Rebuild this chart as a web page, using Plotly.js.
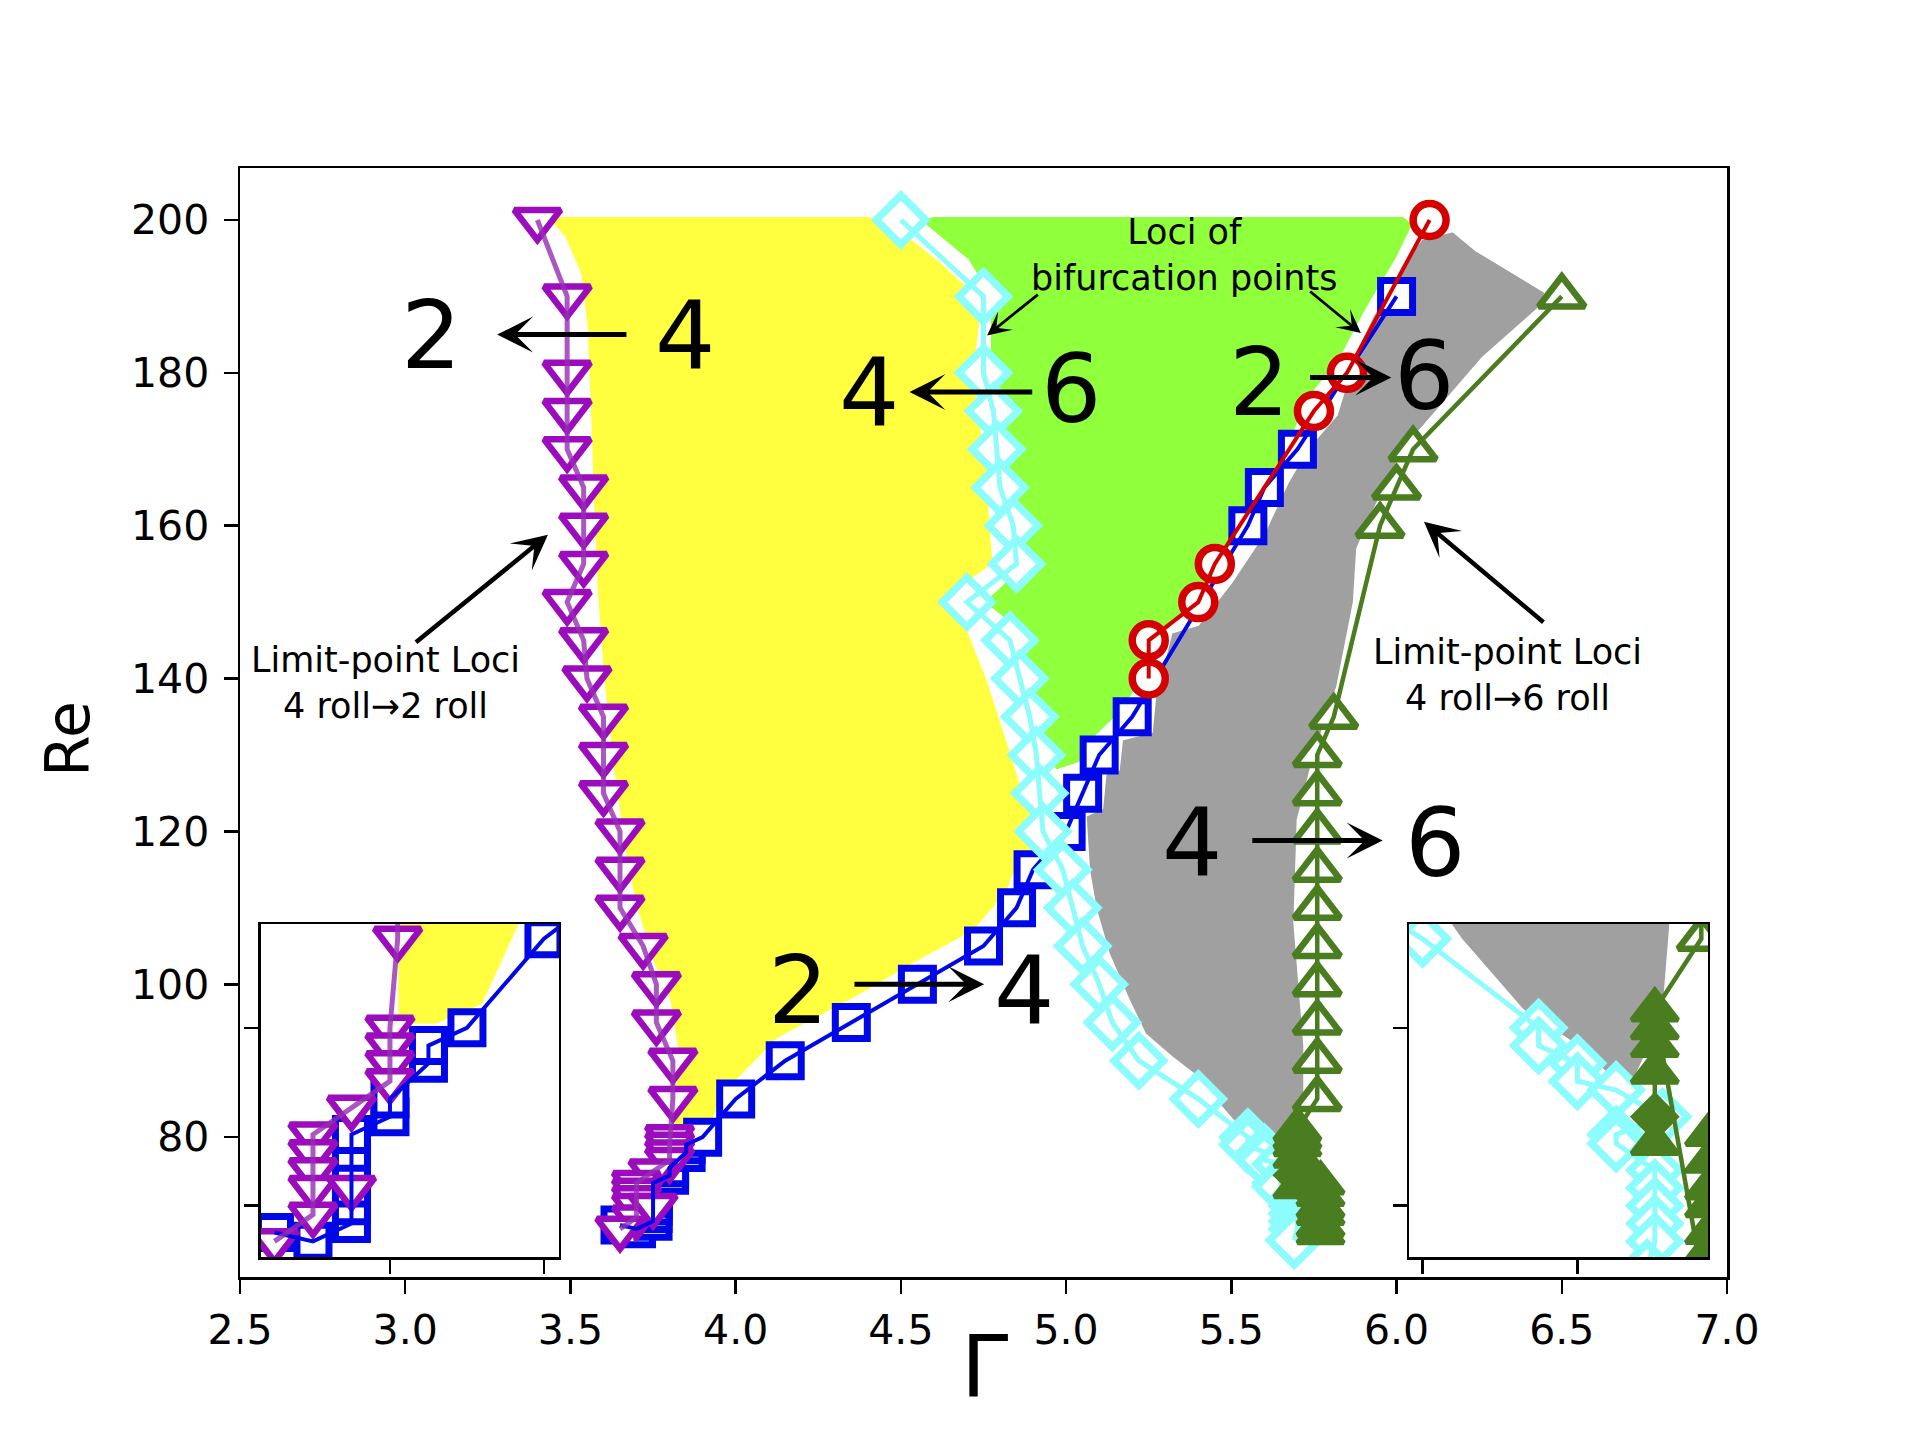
<!DOCTYPE html>
<html><head><meta charset="utf-8">
<script src="https://cdn.plot.ly/plotly-3.0.1.min.js"></script>
<style>html,body{margin:0;padding:0;background:#fff;}</style>
</head><body>
<div id="chart" style="width:1920px;height:1437px;"></div>
<script>
// ---------------- data ----------------
// Limit-point loci 4 roll -> 2 roll (purple, down triangles)
const purpleGamma = [3.40,3.49,3.49,3.49,3.49,3.54,3.54,3.54,3.49,3.54,3.55,3.60,3.60,3.60,3.65,3.65,3.65,3.72,3.76,3.76,3.81,3.81,3.80,3.80,3.80,3.80,3.75,3.70,3.70,3.70,3.70,3.70,3.65];
const purpleRe    = [200,190,180,175,170,165,160,155,150,145,140,135,130,125,120,115,110,105,100,95,90,85,80,79,78,77,75.5,74,73,72,71,69.5,68];
const purpleExtraGamma = [3.75];
const purpleExtraRe    = [71];
// 2 -> 4 bifurcation loci (blue squares)
const blueGamma = [3.65,3.70,3.75,3.75,3.75,3.75,3.75,3.75,3.80,3.80,3.85,3.85,3.90,4.00,4.15,4.35,4.55,4.75,4.85,4.90,5.00,5.05,5.10,5.20,5.55,5.60,5.70,6.00];
const blueRe    = [68.5,68,69,70,71,72,73,74,75,76,78,79,80,85,90,95,100,105,110,115,120,125,130,135,160,165,170,190];
// 2 -> 6 bifurcation loci (red circles)
const redGamma = [5.25,5.25,5.40,5.45,5.75,5.85,6.10];
const redRe    = [140,145,150,155,175,180,200];
// 4 <-> 6 bifurcation loci (cyan diamonds)
const cyanGamma = [4.50,4.75,4.75,4.78,4.79,4.80,4.84,4.85,4.70,4.83,4.86,4.89,4.91,4.92,4.93,4.99,5.02,5.05,5.10,5.14,5.22,5.40,5.55,5.55,5.60,5.60,5.65,5.71,5.65,5.65,5.70,5.70,5.70,5.70,5.70,5.69];
const cyanRe    = [200,190,180,175,170,165,160,155,150,145,140,135,130,125,120,115,110,105,100,95,90,85,80,79,78,77,76.5,75,74,73.5,72,71,70,69,68,66.5];
// Limit-point loci 4 roll -> 6 roll (green triangles)
const greenOpenGamma = [6.50,6.05,6.00,5.95,5.81,5.76,5.76,5.76,5.76,5.76,5.76,5.76,5.76,5.76,5.76];
const greenOpenRe    = [190,170,165,160,135,130,125,120,115,110,105,100,95,90,85];
const greenFilledGamma = [5.70,5.70,5.70,5.70,5.70];
const greenFilledRe    = [81,80,79,77.5,73.5];
const greenDiamondGamma = [5.70];
const greenDiamondRe    = [75];
const greenBranchGamma = [5.77,5.77,5.77,5.77,5.77,5.77];
const greenBranchRe    = [74,72.5,71,70,68.5,67.5];
const greenTailGamma = [5.755,5.71];
const greenTailRe    = [67.5,78.5];
// region outlines
const yellowGamma = [3.44,3.47,4.40,4.46,4.62,4.72,4.74,4.73,4.73,4.76,4.77,4.78,4.68,4.64,4.70,4.76,4.82,4.87,4.92,4.93,4.86,4.82,4.72,4.55,4.35,4.13,3.97,3.92,3.86,3.81,3.81,3.83,3.80,3.75,3.70,3.67,3.63,3.60,3.58,3.57,3.56,3.55,3.53,3.48];
const yellowRe    = [200,200.5,200.5,200,194.5,190.5,187,183,176,168,160,155,152,150,146.5,140,132,125,120,117.5,116.5,112,107,103,98,93,86,81.3,80.2,80.2,85,90,98,103,110,116,128,140,152,162,175,186,193,198];
const limeGamma = [4.56,4.60,6.02,6.05,6.00,5.91,5.83,5.74,5.66,5.55,5.48,5.39,5.29,5.22,5.15,5.09,5.04,4.97,4.93,4.90,4.86,4.84,4.75,4.80,4.87,4.86,4.82,4.81,4.80,4.77,4.77,4.77,4.70];
const limeRe    = [200,200.5,200.5,199.5,195,188.5,182,177,169.5,161.5,156,150.5,145.5,139,135,132.5,129,128,130,135,140,147,150,152,155,160,165,170,175,180,185,190,195];
const grayGamma = [6.08,6.17,6.24,6.45,6.43,6.26,6.10,6.02,5.93,5.88,5.87,5.82,5.75,5.70,5.69,5.72,5.72,5.71,5.67,5.64,5.59,5.53,5.45,5.41,5.32,5.24,5.19,5.13,5.09,5.07,5.06,5.11,5.12,5.16,5.17,5.26,5.27,5.32,5.40,5.50,5.60,5.67,5.73,5.82,5.88,5.93,6.02];
const grayRe    = [197.5,198.5,196,190.5,188.5,182,174,170,162,157,150,139,130,121.5,108,92,86,80.6,76.8,77.4,79.3,81,85,87.5,90.5,93.5,98,104,110,115,122,123,127.5,128,132,133,137.5,146,147,152.5,159,165.5,170,174.5,183,187.5,194];
// ticks
const xTickVals = [2.5,3.0,3.5,4.0,4.5,5.0,5.5,6.0,6.5,7.0];
const xTickText = ['2.5','3.0','3.5','4.0','4.5','5.0','5.5','6.0','6.5','7.0'];
const yTickVals = [80,100,120,140,160,180,200];

// ---------------- styles ----------------
const PURPLE = '#9a0cbc', PURPLE_LINE = 'rgba(150,45,180,0.8)';
const BLUE = '#0008e8', RED = '#d40000', CYAN = '#8cfcfc', GREEN = '#4a7d20';
const YELLOW = '#ffff40', LIME = '#90ff3c', GRAY = '#a0a0a0';
const FONT = 'DejaVu Sans';

function buildTraces(xa, ya) {
  const base = {type:'scatter', xaxis:xa, yaxis:ya, showlegend:false, hoverinfo:'skip'};
  const T = [];
  const fillT = (gx, gy, col) => Object.assign({}, base, {mode:'lines', x:gx, y:gy, fill:'toself', fillcolor:col, line:{color:'white', width:1.5}});
  const mk = (gx, gy, sym, col, size, lw, face) => Object.assign({}, base, {mode:'markers', x:gx, y:gy, marker:{symbol:sym, size:size, color:face || 'white', line:{color:col, width:lw}}});
  const ln = (gx, gy, col, w) => Object.assign({}, base, {mode:'lines', x:gx, y:gy, line:{color:col, width:w}});
  T.push(fillT(grayGamma, grayRe, GRAY));
  T.push(fillT(limeGamma, limeRe, LIME));
  T.push(fillT(yellowGamma, yellowRe, YELLOW));
  T.push(mk(blueGamma, blueRe, 'square', BLUE, 32, 7));
  T.push(mk(purpleGamma, purpleRe, 'triangle-down', PURPLE, 40, 6.5));
  T.push(mk(purpleExtraGamma, purpleExtraRe, 'triangle-down', PURPLE, 40, 6.5));
  T.push(ln(blueGamma, blueRe, BLUE, 4));
  T.push(ln(purpleGamma, purpleRe, PURPLE_LINE, 5));
  T.push(mk(cyanGamma, cyanRe, 'diamond', CYAN, 38, 7.5));
  T.push(ln(cyanGamma, cyanRe, CYAN, 5));
  T.push(mk(redGamma, redRe, 'circle', RED, 33, 7.5));
  T.push(ln(redGamma, redRe, RED, 4));
  T.push(mk(greenOpenGamma, greenOpenRe, 'triangle-up', GREEN, 40, 6.5));
  T.push(mk(greenFilledGamma, greenFilledRe, 'triangle-up', GREEN, 40, 5, GREEN));
  T.push(mk(greenDiamondGamma, greenDiamondRe, 'diamond', GREEN, 34, 4, GREEN));
  T.push(mk(greenBranchGamma, greenBranchRe, 'triangle-up', GREEN, 40, 5, GREEN));
  T.push(ln(greenOpenGamma.concat(greenFilledGamma), greenOpenRe.concat(greenFilledRe), GREEN, 4.5));
  T.push(ln(greenTailGamma, greenTailRe, GREEN, 4.5));
  return T;
}

const data = [].concat(buildTraces('x','y'), buildTraces('x2','y2'), buildTraces('x3','y3'));

const insetAxis = (extra) => Object.assign({
  showticklabels:false, ticks:'outside', ticklen:14, tickwidth:2.5, tickcolor:'black',
  showline:true, linewidth:2.5, linecolor:'black', mirror:true, showgrid:false, zeroline:false,
  tickmode:'array', fixedrange:true
}, extra);

const big = {family:FONT, size:95, color:'black'};
const small = {family:FONT, size:35, color:'black'};
const txt = (x, y, t, f) => ({xref:'x', yref:'y', x:x, y:y, text:t, showarrow:false, font:f, xanchor:'center', yanchor:'middle', align:'center'});
const arr = (x, y, ax, ay, w, s) => ({xref:'x', yref:'y', axref:'x', ayref:'y', x:x, y:y, ax:ax, ay:ay, text:'', showarrow:true, arrowhead:3, arrowsize:s, arrowwidth:w, arrowcolor:'black', standoff:0, startstandoff:0});

const annotations = [
  txt(3.078,185,'2',big), txt(3.847,185,'4',big), arr(3.278,185,3.674,185,5,1.2),
  txt(4.404,177.5,'4',big), txt(5.015,177.9,'6',big), arr(4.526,177.5,4.902,177.5,5,1.2),
  txt(5.584,178.8,'2',big), txt(6.083,179.6,'6',big), arr(5.984,179.4,5.734,179.4,5,1.2),
  txt(5.381,118.6,'4',big), txt(6.116,118.5,'6',big), arr(5.958,118.8,5.559,118.8,5,1.2),
  txt(4.19,99.3,'2',big), txt(4.873,99.2,'4',big), arr(4.752,100.0,4.355,100.0,5,1.2),
  txt(2.941,139.4,'Limit-point Loci<br>4 roll→2 roll',small), arr(3.432,158.8,3.028,144.6,4.5,1.3),
  txt(6.336,140.5,'Limit-point Loci<br>4 roll→6 roll',small), arr(6.083,160.5,6.449,147.2,4.5,1.3),
  txt(5.357,195.45,'Loci of<br>bifurcation points',small),
  arr(4.761,184.9,4.919,190.4,2.8,1.4), arr(5.892,185.2,5.734,190.8,2.8,1.4),
  {xref:'paper', yref:'paper', x:-0.1153, y:0.4847, text:'Re', showarrow:false, textangle:-90, font:{family:FONT, size:60, color:'black'}, xanchor:'center', yanchor:'middle'},
  {xref:'paper', yref:'paper', x:0.501, y:-0.081, text:'Γ', showarrow:false, font:{family:FONT, size:85, color:'black'}, xanchor:'center', yanchor:'middle'}
];

const layout = {
  width:1920, height:1437, autosize:false,
  paper_bgcolor:'white', plot_bgcolor:'white',
  margin:{l:240, r:193, t:168, b:160, pad:0},
  showlegend:false,
  font:{family:FONT, color:'black'},
  xaxis:{domain:[0,1], range:[2.5,7.0], tickmode:'array', tickvals:xTickVals, ticktext:xTickText,
    ticks:'outside', ticklen:14, tickwidth:2.5, tickcolor:'black', ticklabelstandoff:1,
    showline:true, linewidth:2.5, linecolor:'black', mirror:true, showgrid:false, zeroline:false,
    tickfont:{family:FONT, size:41, color:'black'}, anchor:'y'},
  yaxis:{domain:[0,1], range:[61.7,206.8], tickmode:'array', tickvals:yTickVals,
    ticks:'outside', ticklen:14, tickwidth:2.5, tickcolor:'black', ticklabelstandoff:6,
    showline:true, linewidth:2.5, linecolor:'black', mirror:true, showgrid:false, zeroline:false,
    tickfont:{family:FONT, size:41, color:'black'}, anchor:'x'},
  xaxis2: insetAxis({domain:[0.01412,0.2145], anchor:'y2', range:[3.6325,4.0195], tickvals:[3.8,4.0]}),
  yaxis2: insetAxis({domain:[0.01803,0.3183], anchor:'x2', range:[67.12,85.83], tickvals:[70,80]}),
  xaxis3: insetAxis({domain:[0.7862,0.9872], anchor:'y3', range:[5.3828,5.7686], tickvals:[5.4,5.6]}),
  yaxis3: insetAxis({domain:[0.01803,0.3183], anchor:'x3', range:[67.12,85.83], tickvals:[70,80]}),
  annotations: annotations
};

Plotly.newPlot('chart', data, layout, {displayModeBar:false, staticPlot:true});
</script>
</body></html>
